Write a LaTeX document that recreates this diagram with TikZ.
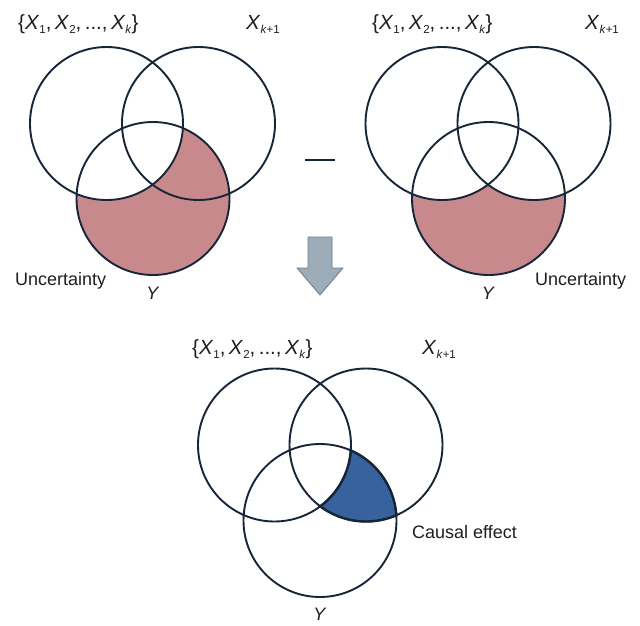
\documentclass[tikz,border=0pt]{standalone}
\usepackage{fontspec}
\setmainfont{Liberation Sans}
\definecolor{ln}{RGB}{22,38,56}
\definecolor{pinkf}{RGB}{200,137,140}
\definecolor{bluef}{RGB}{56,98,158}
\definecolor{arrf}{RGB}{156,172,184}
\definecolor{arrd}{RGB}{112,124,134}
\definecolor{txt}{RGB}{30,30,30}
\newcommand\lsub[1]{\raisebox{-4.5pt}{\fontsize{11.5}{12}\selectfont #1}}
\newcommand\xset{\{\textit{X}\lsub{1},\hspace{3.5pt}\textit{X}\lsub{2},\hspace{3.5pt}...,\hspace{3.5pt}\textit{X}\lsub{\textit{k}}\}}
\newcommand\xk{\textit{X}\lsub{\textit{k}+1}}
\begin{document}
\begin{tikzpicture}[x=1pt,y=-1pt,
  vc/.style={circle,draw=ln,line width=1.9pt,minimum size=153pt,inner sep=0pt},
  lbl/.style={inner sep=0pt,anchor=base west,text=txt,font=\fontsize{18}{20}\selectfont},
  xlbl/.style={inner sep=0pt,anchor=base west,text=txt,font=\fontsize{20.5}{22}\selectfont},
  lblc/.style={inner sep=0pt,anchor=base,text=txt,font=\fontsize{18}{20}\selectfont}]
\useasboundingbox[fill=white] (0,0) rectangle (640,625);
% ---------- top left ----------
\coordinate (ca1) at (106.5,123.5);
\coordinate (cb1) at (198.5,123.5);
\coordinate (cy1) at (153,198.5);
\begin{scope}
  \clip (cy1) circle[radius=76.5pt];
  \fill[pinkf] (cy1) circle[radius=77pt];
  \fill[white] (ca1) circle[radius=76.5pt];
\end{scope}
\node[vc] (a1) at (ca1) {};
\node[vc] (b1) at (cb1) {};
\node[vc] (y1) at (cy1) {};
\node[xlbl] (ta1) at (18,29) {\xset};
\node[xlbl] (tb1) at (246,29) {\xk};
\node[lbl] (u1) at (15,285) {Uncertainty};
\node[lblc] (ty1) at (153,299) {\textit{Y}};
% ---------- top right ----------
\coordinate (ca2) at (442,123.5);
\coordinate (cb2) at (534,123.5);
\coordinate (cy2) at (488.5,198.5);
\begin{scope}
  \clip (cy2) circle[radius=76.5pt];
  \fill[pinkf] (cy2) circle[radius=77pt];
  \fill[white] (ca2) circle[radius=76.5pt];
  \fill[white] (cb2) circle[radius=76.5pt];
\end{scope}
\node[vc] (a2) at (ca2) {};
\node[vc] (b2) at (cb2) {};
\node[vc] (y2) at (cy2) {};
\node[xlbl] (ta2) at (372,29) {\xset};
\node[xlbl] (tb2) at (585,29) {\xk};
\node[lbl] (u2) at (535,285) {Uncertainty};
\node[lblc] (ty2) at (488.5,299) {\textit{Y}};
% ---------- minus ----------
\coordinate (m1) at (305,160);
\coordinate (m2) at (335,160);
\draw[ln,line width=2pt] (m1) -- (m2);
% ---------- arrow ----------
\draw[arrd,fill=arrf,line width=0.8pt,line join=miter]
  (308,237) -- (332,237) -- (332,268) -- (343,268) -- (320,295)
  -- (297,268) -- (308,268) -- cycle;
% ---------- bottom ----------
\coordinate (ca3) at (274.5,445);
\coordinate (cb3) at (366,445);
\coordinate (cy3) at (320,520.5);
\begin{scope}
  \clip (cy3) circle[radius=76.5pt];
  \clip (cb3) circle[radius=76.5pt];
  \fill[bluef] (cy3) circle[radius=77pt];
  \fill[white] (ca3) circle[radius=76.5pt];
\end{scope}
\node[vc] (a3) at (ca3) {};
\node[vc] (b3) at (cb3) {};
\node[vc] (y3) at (cy3) {};
\begin{scope}
  \clip (cy3) circle[radius=77.6pt];
  \clip (cb3) circle[radius=77.6pt];
  \draw[ln,line width=2.4pt] (ca3) circle[radius=76.5pt];
\end{scope}
\begin{scope}[even odd rule]
  \clip (cb3) circle[radius=77.6pt];
  \clip (ca3) circle[radius=75.4pt] (0,0) rectangle (640,625);
  \draw[ln,line width=2.4pt] (cy3) circle[radius=76.5pt];
\end{scope}
\begin{scope}[even odd rule]
  \clip (cy3) circle[radius=77.6pt];
  \clip (ca3) circle[radius=75.4pt] (0,0) rectangle (640,625);
  \draw[ln,line width=2.4pt] (cb3) circle[radius=76.5pt];
\end{scope}
\node[xlbl] (ta3) at (192,354) {\xset};
\node[xlbl] (tb3) at (422,354) {\xk};
\node[lbl] (ce) at (412,538) {Causal effect};
\node[lblc] (ty3) at (320,620) {\textit{Y}};
\end{tikzpicture}
\end{document}
